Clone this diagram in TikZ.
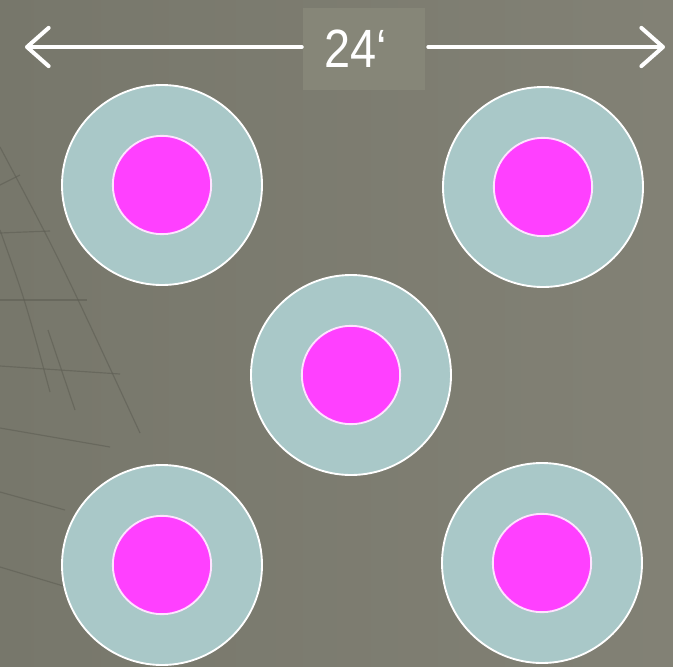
\documentclass[tikz,border=0pt]{standalone}
\usepackage{fontspec}
\setmainfont{Liberation Sans}
\newfontfamily\labelfont[FakeStretch=0.87]{Liberation Sans}
\usetikzlibrary{arrows.meta}
\definecolor{ground}{HTML}{77776B}
\definecolor{groundlight}{HTML}{828175}
\definecolor{gridline}{HTML}{5E5E54}
\definecolor{ringfill}{HTML}{A9C8C8}
\definecolor{corefill}{HTML}{FF40FF}
\definecolor{labelbox}{HTML}{868678}
\tikzset{
	ring/.style={circle, draw=white, line width=1.6pt, fill=ringfill, minimum size=6cm, inner sep=0pt},
	core/.style={circle, draw=white!85!corefill, line width=1.6pt, fill=corefill, minimum size=2.95cm, inner sep=0pt},
	span/.style={white, line width=3.4pt, line cap=round, -{Straight Barb[length=6.5mm, width=11.5mm, round]}},
}
\begin{document}
\begin{tikzpicture}[x=0.03cm, y=-0.03cm]
		\useasboundingbox (0, 0) rectangle (673, 666);
		\shade[left color=ground, right color=groundlight] (0, 0) rectangle (673, 666);
		% faint floor grid on the left
		\begin{scope}[gridline, line width=1pt, opacity=0.6]
			\draw (0, 147) .. controls (60, 260) .. (140, 433);
			\draw (0, 230) .. controls (25, 300) .. (50, 392);
			\draw (48, 330) -- (75, 410);
			\draw (0, 233) -- (50, 231);
			\draw (0, 300) -- (87, 300);
			\draw (0, 366) -- (120, 374);
			\draw (0, 428) -- (110, 447);
			\draw (0, 492) -- (65, 510);
			\draw (0, 567) -- (70, 588);
			\draw (0, 185) -- (20, 175);
		\end{scope}
		% holes
		\foreach \name/\cx/\cy in {tl/162/185, tr/543/187, mid/351/375, bl/162/565, br/542/563} {
			\node[ring] (\name) at (\cx, \cy) {};
			\node[core] (\name-core) at (\name) {};
		}
		% dimension arrow
		\node[fill=labelbox, minimum width=3.66cm, minimum height=2.46cm, inner sep=0pt] (dim) at (364, 49) {};
		\node[white, font=\labelfont\fontsize{46pt}{46pt}\selectfont, anchor=base] (dimtext) at (356, 67) {24‘};
		\coordinate (leftend) at (25, 47);
		\coordinate (rightend) at (665, 47);
		\draw[span] (dim.west) ++(-1, -2) -- (leftend);
		\draw[span] (dim.east) ++(3, -2) -- (rightend);
	\end{tikzpicture}
\end{document}
